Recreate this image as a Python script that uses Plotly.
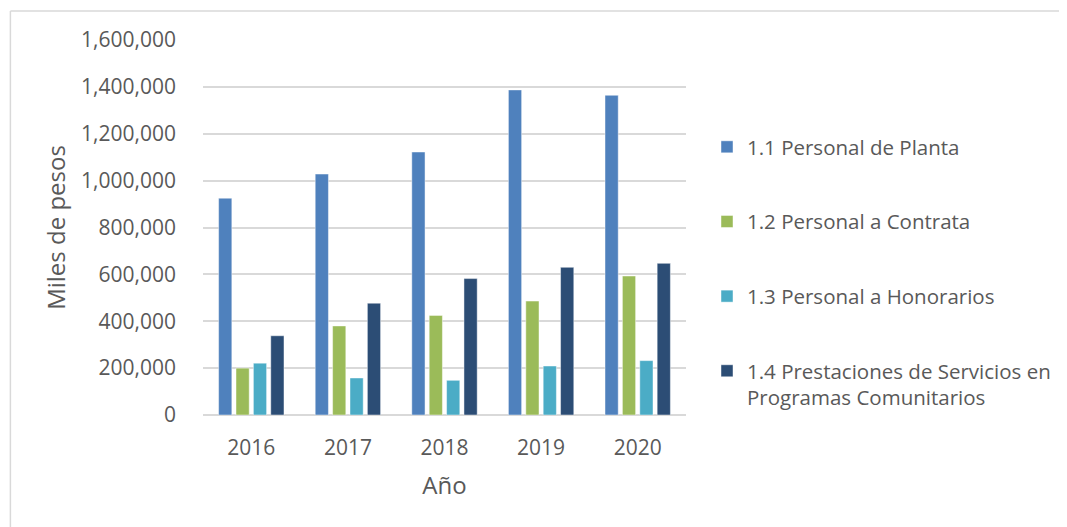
import plotly.graph_objects as go

years = ["2016", "2017", "2018", "2019", "2020"]
series_names = [
    "1.1 Personal de Planta",
    "1.2 Personal a Contrata",
    "1.3 Personal a Honorarios",
    "1.4 Prestaciones de Servicios en<br>Programas Comunitarios",
]
planta = [925000, 1028000, 1122000, 1387000, 1364000]
contrata = [200000, 380000, 425000, 486000, 593000]
honorarios = [221000, 158000, 148000, 209000, 232000]
prestaciones = [338000, 477000, 582000, 630000, 647000]
colors = ["#4f81bd", "#9bbb59", "#4bacc6", "#2c4d75"]
tick_vals = [0, 200000, 400000, 600000, 800000, 1000000, 1200000, 1400000, 1600000]

FONT = "Open Sans"
TXT = "#595959"

fig = go.Figure()
for i, (name, vals) in enumerate(zip(series_names, [planta, contrata, honorarios, prestaciones])):
    fig.add_trace(go.Bar(
        x=years, y=vals, name=name, legendgroup=str(i),
        marker=dict(color=colors[i], line=dict(color="rgba(255,255,255,0.45)", width=1)),
    ))

# page offset (body margin) of the rendered page
OFF = 8
W, H = 1067 - OFF, 527 - OFF
# plot area in page pixels
PL, PR, PT, PB = 203, 687, 40, 415
L, R, T, B = PL - OFF, W - (PR - OFF), PT - OFF, H - (PB - OFF)
pw, ph = W - L - R, H - T - B

def px_x(p):
    return (p - OFF - L) / pw

def px_y(p):
    return (H - B - (p - OFF)) / ph

fig.update_layout(
    width=W, height=H,
    margin=dict(l=L, r=R, t=T, b=B),
    paper_bgcolor="white", plot_bgcolor="white",
    font=dict(family=FONT, size=20, color=TXT),
    barmode="group", bargap=0.28, bargroupgap=0.24,
    showlegend=True,
    legend=dict(
        x=px_x(707), y=px_y(127), xanchor="left", yanchor="top",
        font=dict(family=FONT, size=20.5, color=TXT),
        tracegroupgap=45, valign="top", itemwidth=30,
        bgcolor="rgba(0,0,0,0)",
    ),
    xaxis=dict(
        showgrid=False, showline=False, ticks="",
        tickfont=dict(size=21, color=TXT),
        ticklabelstandoff=18,
        title=dict(text="Año", font=dict(size=24, color=TXT), standoff=17),
    ),
    yaxis=dict(
        range=[0, 1600000], tickvals=tick_vals, tickformat=",d",
        showgrid=True, gridcolor="#d9d9d9", gridwidth=1.5,
        zeroline=True, zerolinecolor="#d9d9d9", zerolinewidth=1.5,
        showline=False, ticks="",
        tickfont=dict(size=21, color=TXT),
        ticklabelstandoff=26,
        title=dict(text="Miles de pesos", font=dict(size=24, color=TXT), standoff=8),
    ),
    shapes=[
        dict(type="line", xref="paper", yref="paper", x0=px_x(10), x1=px_x(1080), y0=px_y(11), y1=px_y(11),
             line=dict(color="#d9d9d9", width=1.5)),
        dict(type="line", xref="paper", yref="paper", x0=px_x(10), x1=px_x(10), y0=px_y(11), y1=px_y(540),
             line=dict(color="#d9d9d9", width=1.5)),
    ],
)

fig.write_html("out.html")
